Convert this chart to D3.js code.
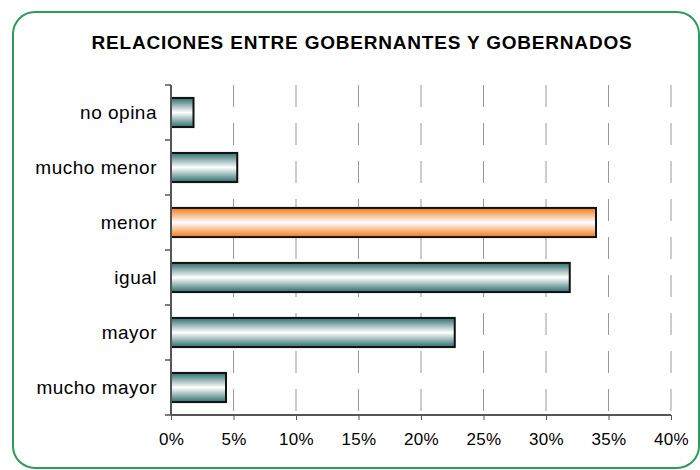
<!doctype html>
<html>
<head>
<meta charset="utf-8">
<title>Relaciones entre gobernantes y gobernados</title>
<script src="https://d3js.org/d3.v7.min.js"></script>
<style>
    body { margin: 0; background: #fff; }
    svg text { font-family: "Liberation Sans", Arial, sans-serif; fill: #000; }
    .title { font-size: 19px; font-weight: bold; letter-spacing: 0.8px; }
    .xaxis text { font-size: 17px; letter-spacing: 0.3px; }
    .yaxis text { font-size: 19px; letter-spacing: 0.5px; }
    .axis path, .axis line { stroke: #555; }
</style>
</head>
<body>
<div id="chart"></div>
<script>
// categories top to bottom, values in percent
const categories = ["no opina", "mucho menor", "menor", "igual", "mayor", "mucho mayor"];
const values = [1.8, 5.3, 34.0, 31.9, 22.7, 4.4];
const highlight = ["menor"];
const xTicks = [0, 5, 10, 15, 20, 25, 30, 35, 40];

const w = 700, h = 470;
const margin = { top: 85, right: 25, bottom: 55, left: 171 };

const svg = d3.select("#chart").append("svg")
    .attr("width", w)
    .attr("height", h);

// gradients for the cylinder-ish bars
const defs = svg.append("defs");
function addGrad(id, edge) {
    const g = defs.append("linearGradient")
        .attr("id", id)
        .attr("x1", 0).attr("y1", 0).attr("x2", 0).attr("y2", 1);
    g.append("stop").attr("offset", "0%").attr("stop-color", edge);
    g.append("stop").attr("offset", "50%").attr("stop-color", "#ffffff");
    g.append("stop").attr("offset", "100%").attr("stop-color", edge);
}
addGrad("teal", "#2f6e6c");
addGrad("orange", "#f07a1a");

// frame
svg.append("rect")
    .attr("x", 13).attr("y", 12)
    .attr("width", 686).attr("height", 456)
    .attr("rx", 22).attr("ry", 22)
    .attr("fill", "none")
    .attr("stroke", "#2e9a5a")
    .attr("stroke-width", 2);

svg.append("text")
    .attr("class", "title")
    .attr("x", 362)
    .attr("y", 49)
    .attr("text-anchor", "middle")
    .text("RELACIONES ENTRE GOBERNANTES Y GOBERNADOS");

const xScale = d3.scaleLinear()
    .domain([0, 40])
    .range([margin.left, w - margin.right - 4]);

const yScale = d3.scaleBand()
    .domain(categories)
    .range([margin.top, h - margin.bottom])
    .paddingInner(0.47)
    .paddingOuter(0.235);

// dashed gridlines
svg.append("g")
    .selectAll("line")
    .data(xTicks.slice(1))
    .join("line")
    .attr("x1", d => xScale(d)).attr("x2", d => xScale(d))
    .attr("y1", margin.top).attr("y2", h - margin.bottom)
    .attr("stroke", "#999")
    .attr("stroke-width", 1)
    .attr("stroke-dasharray", "22,16");

// bars
svg.append("g")
    .selectAll("rect")
    .data(categories)
    .join("rect")
    .attr("x", xScale(0))
    .attr("y", d => yScale(d))
    .attr("width", (d, i) => xScale(values[i]) - xScale(0))
    .attr("height", yScale.bandwidth())
    .attr("fill", d => highlight.includes(d) ? "url(#orange)" : "url(#teal)")
    .attr("stroke", "#111")
    .attr("stroke-width", 2);

// x axis
const xAxis = d3.axisBottom(xScale)
    .tickValues(xTicks)
    .tickSize(5)
    .tickPadding(13)
    .tickFormat(d => d + "%");

svg.append("g")
    .attr("class", "axis xaxis")
    .attr("transform", "translate(0," + (h - margin.bottom) + ")")
    .call(xAxis)
    .call(g => g.select(".domain").attr("d", "M" + xScale(0) + ",0H" + xScale(40)).attr("stroke-width", 2));

// y axis with ticks between categories
const boundaries = d3.range(categories.length + 1).map(i => margin.top + i * (h - margin.top - margin.bottom) / categories.length);

const yG = svg.append("g").attr("class", "axis yaxis");
yG.append("line")
    .attr("x1", margin.left).attr("x2", margin.left)
    .attr("y1", margin.top).attr("y2", h - margin.bottom)
    .attr("stroke", "#555").attr("stroke-width", 2);
yG.selectAll("line.tk")
    .data(boundaries)
    .join("line")
    .attr("class", "tk")
    .attr("x1", margin.left - 6).attr("x2", margin.left)
    .attr("y1", d => d).attr("y2", d => d)
    .attr("stroke", "#555").attr("stroke-width", 1.5);
yG.selectAll("text")
    .data(categories)
    .join("text")
    .attr("x", margin.left - 14)
    .attr("y", d => yScale(d) + yScale.bandwidth() / 2)
    .attr("dy", "0.35em")
    .attr("text-anchor", "end")
    .text(d => d);
</script>
</body>
</html>
